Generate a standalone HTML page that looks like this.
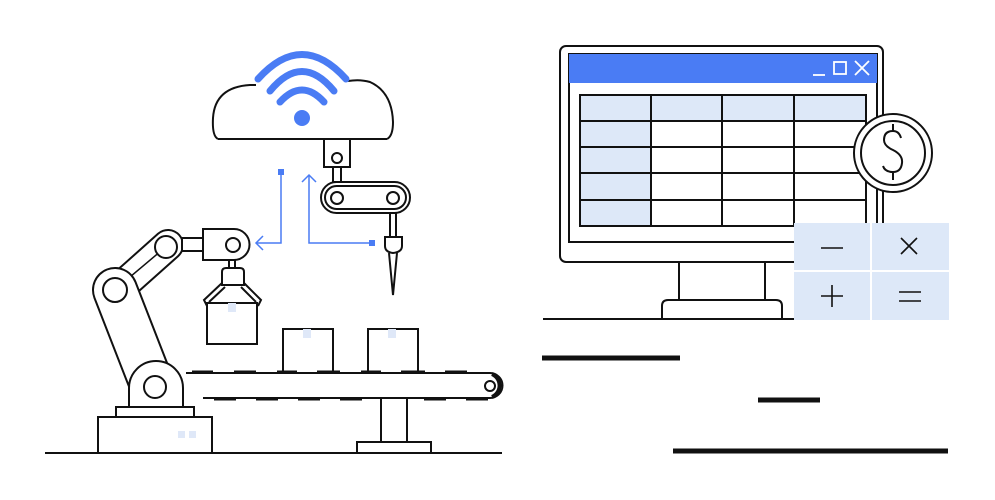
<!DOCTYPE html>
<html><head><meta charset="utf-8"><style>
html,body{margin:0;padding:0;background:#fff;width:995px;height:500px;overflow:hidden}
svg{display:block}
</style></head><body>
<svg width="995" height="500" viewBox="0 0 995 500" xmlns="http://www.w3.org/2000/svg" fill="none" stroke="#111" stroke-width="2">
<!-- cloud -->
<path d="M218,139 Q212,136 213,118 Q215,87 250,85 L256,85"/>
<path d="M348,81 Q360,79 370,82 Q392,92 393,122 Q393,136 387,139"/>
<path d="M218,139 L387,139" />
<g stroke="#4a7cf4" stroke-width="7" stroke-linecap="round">
<path d="M258,79 Q302,30 346,79"/>
<path d="M270,91 Q302,52 334,91"/>
<path d="M280,102 Q302,78 324,102"/>
</g>
<circle cx="302" cy="118" r="8" fill="#4a7cf4" stroke="none"/>
<!-- top joint -->
<rect x="324" y="139" width="26" height="28" fill="#fff"/>
<circle cx="337" cy="158" r="5"/>
<rect x="333" y="167" width="8" height="15" fill="#fff"/>
<rect x="321" y="182" width="89" height="31" rx="15.5" fill="#fff"/>
<rect x="325" y="186" width="81" height="23" rx="11.5"/>
<circle cx="337" cy="198" r="6"/>
<circle cx="393" cy="198" r="6"/>
<rect x="390" y="213" width="6" height="24" fill="#fff"/>
<path d="M385,237 L402,237 L402,246 Q402,252 393,253 Q385,252 385,246 Z" fill="#fff"/>
<path d="M389,253 L393,295 L397,253"/>
<!-- blue connectors -->
<g stroke="#4a7cf4" stroke-width="1.5">
<path d="M281,172 L281,243 L256,243"/><path d="M263,236 L256,243 L263,250"/>
<path d="M309,175 L309,243 L372,243"/><path d="M302,182 L309,175 L316,182"/>
</g>
<rect x="278" y="169" width="6" height="6" fill="#4a7cf4" stroke="none"/>
<rect x="369" y="240" width="6" height="6" fill="#4a7cf4" stroke="none"/>
<!-- robot arm -->
<rect x="98" y="417" width="114" height="36" fill="#fff"/>
<rect x="178" y="431" width="7" height="7" fill="#dfe8f8" stroke="none"/>
<rect x="189" y="431" width="7" height="7" fill="#dfe8f8" stroke="none"/>
<rect x="116" y="407" width="78" height="10" fill="#fff"/>
<line x1="122" y1="286" x2="168" y2="245" stroke-width="32" stroke-linecap="round"/>
<line x1="122" y1="286" x2="168" y2="245" stroke="#fff" stroke-width="28" stroke-linecap="round"/>
<line x1="124" y1="282" x2="168" y2="245" stroke-width="1.5"/>
<rect x="182" y="238" width="22" height="13" fill="#fff"/>
<circle cx="166" cy="247" r="11" fill="#fff"/>
<line x1="115" y1="290" x2="152" y2="385" stroke-width="46" stroke-linecap="round"/>
<line x1="115" y1="290" x2="152" y2="385" stroke="#fff" stroke-width="42" stroke-linecap="round"/>
<path d="M129,407 L129,388 A27,27 0 0 1 183,388 L183,407 Z" fill="#fff"/>
<circle cx="115" cy="290" r="12" fill="#fff"/>
<circle cx="155" cy="387" r="11" fill="#fff"/>
<path d="M203,229 L234,229 A15.5,15.5 0 0 1 234,260 L203,260 Z" fill="#fff"/>
<circle cx="233" cy="245" r="7"/>
<rect x="229" y="260" width="6" height="8" fill="#fff"/>
<path d="M222,285 L222,272 Q222,268 226,268 L240,268 Q244,268 244,272 L244,285 Z" fill="#fff"/>
<path d="M222,283 L204,300 L207,306 M225,287 L209,302 M244,283 L261,300 L258,306 M241,287 L256,302"/>
<rect x="207" y="303" width="50" height="41" fill="#fff"/>
<rect x="228" y="303" width="8" height="9" fill="#dfe8f8" stroke="none"/>
<!-- conveyor -->
<rect x="283" y="329" width="50" height="44" fill="#fff"/>
<rect x="303" y="329" width="8" height="9" fill="#dfe8f8" stroke="none"/>
<rect x="368" y="329" width="50" height="44" fill="#fff"/>
<rect x="388" y="329" width="8" height="9" fill="#dfe8f8" stroke="none"/>
<path d="M186,373 L490,373 A12.5,12.5 0 0 1 490,398 L203,398"/>
<path d="M492,374 A12.5,12.5 0 0 1 492,397" stroke-width="4"/>
<circle cx="490" cy="386" r="5"/>
<g stroke-width="3">
<path d="M192,372h21M234,372h22M277,372h20M317,372h23M361,372h20M401,372h24M445,372h22"/>
<path d="M214,399h22M256,399h22M298,399h22M340,399h22M382,399h22M424,399h22M466,399h22"/>
</g>
<rect x="381" y="398" width="26" height="44" fill="#fff"/>
<rect x="357" y="442" width="74" height="11" fill="#fff"/>
<line x1="45" y1="453" x2="502" y2="453"/>
<!-- monitor -->
<rect x="679" y="262" width="86" height="40" fill="#fff"/>
<path d="M662,319 L662,306 Q662,300 668,300 L776,300 Q782,300 782,306 L782,319" fill="#fff"/>
<line x1="543" y1="319" x2="795" y2="319"/>
<rect x="560" y="46" width="323" height="216" rx="6" fill="#fff"/>
<rect x="569" y="54" width="308" height="188" fill="#fff"/>
<rect x="569" y="54" width="308" height="29" fill="#4a7cf4" stroke="none"/>
<g stroke="#fff" stroke-width="1.8">
<path d="M813,75h12"/><rect x="834" y="62" width="12" height="12"/><path d="M855,61l14,14M869,61l-14,14"/>
</g>
<rect x="580" y="95" width="286" height="131" fill="#fff"/>
<rect x="580" y="95" width="286" height="26" fill="#dde8f8" stroke="none"/>
<rect x="580" y="95" width="71" height="131" fill="#dde8f8" stroke="none"/>
<rect x="580" y="95" width="286" height="131"/>
<path d="M651,95v131M722,95v131M794,95v131M580,121h286M580,147h286M580,173h286M580,200h286"/>
<circle cx="893" cy="153" r="39" fill="#fff"/>
<circle cx="893" cy="153" r="32"/>
<path d="M901,138 Q899,131 893,131 Q884,131 884,140 Q884,146 893,150 Q903,155 902,163 Q901,172 893,172 Q885,172 883,166 M893,124v7M893,172v8"/>
<rect x="794" y="223" width="155" height="97" fill="#dde8f8" stroke="none"/>
<path d="M871,223v97M794,271h155" stroke="#fff" stroke-width="2"/>
<g stroke-width="1.6">
<path d="M821,248h22"/><path d="M901,238l16,16M917,238l-16,16"/>
<path d="M821,296h22M832,285v22"/><path d="M899,292h22M899,301h22"/>
</g>
<g stroke-width="5">
<path d="M542,358h138M758,400h62M673,451h275"/>
</g>
</svg>
</body></html>
